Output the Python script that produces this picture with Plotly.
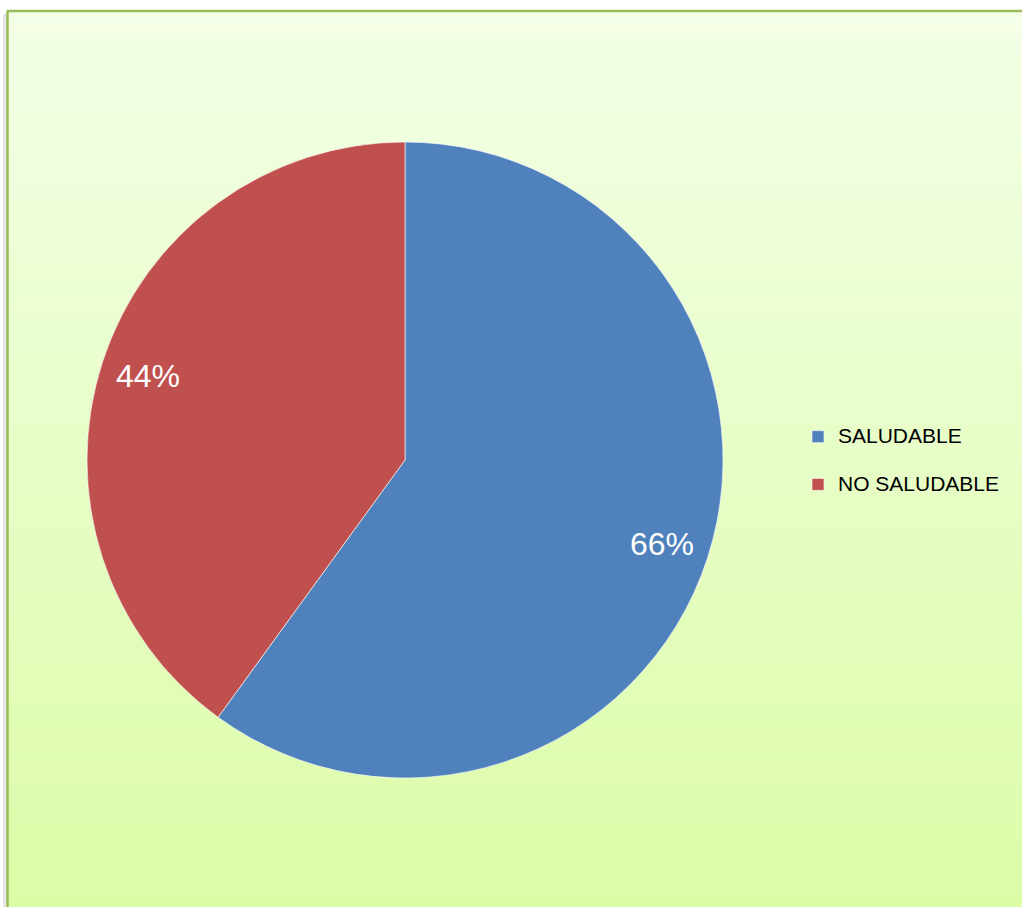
import math
import plotly.graph_objects as go

# Category names, shares and slice colours
labels = ["SALUDABLE", "NO SALUDABLE"]
values = [66, 44]
colors = ["#4f81bd", "#c0504d"]

W, H = 1022, 907

# Pie placement in pixels (centre and radius)
CX, CY, R = 405, 460, 318

LEGEND_TEXT_PX = 21
LEGEND_LINE_PX = 17.2   # sets the row pitch of the legend


def legend_label(i, lab):
    txt = f"<span style='font-size:{LEGEND_TEXT_PX}px'>{lab}</span>"
    return txt + "<br> " if i < len(labels) - 1 else txt


fig = go.Figure()

fig.add_trace(go.Pie(
    labels=[legend_label(i, lab) for i, lab in enumerate(labels)],
    values=values,
    sort=False,
    direction="clockwise",
    rotation=0,
    marker=dict(colors=colors, line=dict(color="rgba(255,255,255,0.6)", width=1)),
    textinfo="none",
    domain=dict(x=[(CX - R) / W, (CX + R) / W],
                y=[(H - (CY + R)) / H, (H - (CY - R)) / H]),
    hovertext=labels,
    hoverinfo="text+percent",
))

# Percentage labels placed on each slice's bisector, near the rim
annotations = []
total = sum(values)
cum = 0.0
for v in values:
    mid = (cum + v / 2) / total * 2 * math.pi
    cum += v
    r = 0.85 * R
    px = CX + r * math.sin(mid)
    py = CY - r * math.cos(mid)
    annotations.append(dict(
        x=px / W, y=(H - py) / H, xref="paper", yref="paper",
        text=f"{v}%", showarrow=False, xanchor="center", yanchor="middle",
        font=dict(family="Liberation Sans, Arial, sans-serif", size=32, color="white"),
    ))

# Vertical green gradient behind the chart area
shapes = []
top_rgb = (244, 255, 231)
bot_rgb = (219, 252, 167)
n = 80
x0, x1 = 8 / W, 1.0
y_top, y_bot = (H - 12) / H, 0.0
for i in range(n):
    t = (i + 0.5) / n
    r_ = round(top_rgb[0] + (bot_rgb[0] - top_rgb[0]) * t)
    g_ = round(top_rgb[1] + (bot_rgb[1] - top_rgb[1]) * t)
    b_ = round(top_rgb[2] + (bot_rgb[2] - top_rgb[2]) * t)
    ya = y_top - (y_top - y_bot) * i / n
    yb = y_top - (y_top - y_bot) * (i + 1) / n
    shapes.append(dict(type="rect", xref="paper", yref="paper",
                       x0=x0, x1=x1, y0=yb - 0.0005, y1=ya + 0.0005,
                       fillcolor=f"rgb({r_},{g_},{b_})", line=dict(width=0),
                       layer="below"))

# Soft shadow on the left of the frame
shapes.append(dict(type="rect", xref="paper", yref="paper",
                   x0=3 / W, x1=7 / W, y0=0, y1=(H - 14) / H,
                   fillcolor="rgba(180,180,180,0.35)", line=dict(width=0), layer="below"))
# Frame lines (top and left)
shapes.append(dict(type="line", xref="paper", yref="paper",
                   x0=7 / W, x1=1.0, y0=(H - 11) / H, y1=(H - 11) / H,
                   line=dict(color="#9bbb59", width=2.5), layer="below"))
shapes.append(dict(type="line", xref="paper", yref="paper",
                   x0=7.5 / W, x1=7.5 / W, y0=0, y1=(H - 11) / H,
                   line=dict(color="#9bbb59", width=2.5), layer="below"))

fig.update_layout(
    width=W, height=H,
    margin=dict(l=0, r=0, t=0, b=0),
    paper_bgcolor="white",
    plot_bgcolor="white",
    shapes=shapes,
    annotations=annotations,
    showlegend=True,
    legend=dict(
        x=798 / W, y=(H - 419) / H, xanchor="left", yanchor="top",
        valign="top",
        bgcolor="rgba(0,0,0,0)",
        font=dict(family="Liberation Sans, Arial, sans-serif", size=LEGEND_LINE_PX, color="black"),
        itemclick=False,
    ),
)

fig.write_html("out.html")
